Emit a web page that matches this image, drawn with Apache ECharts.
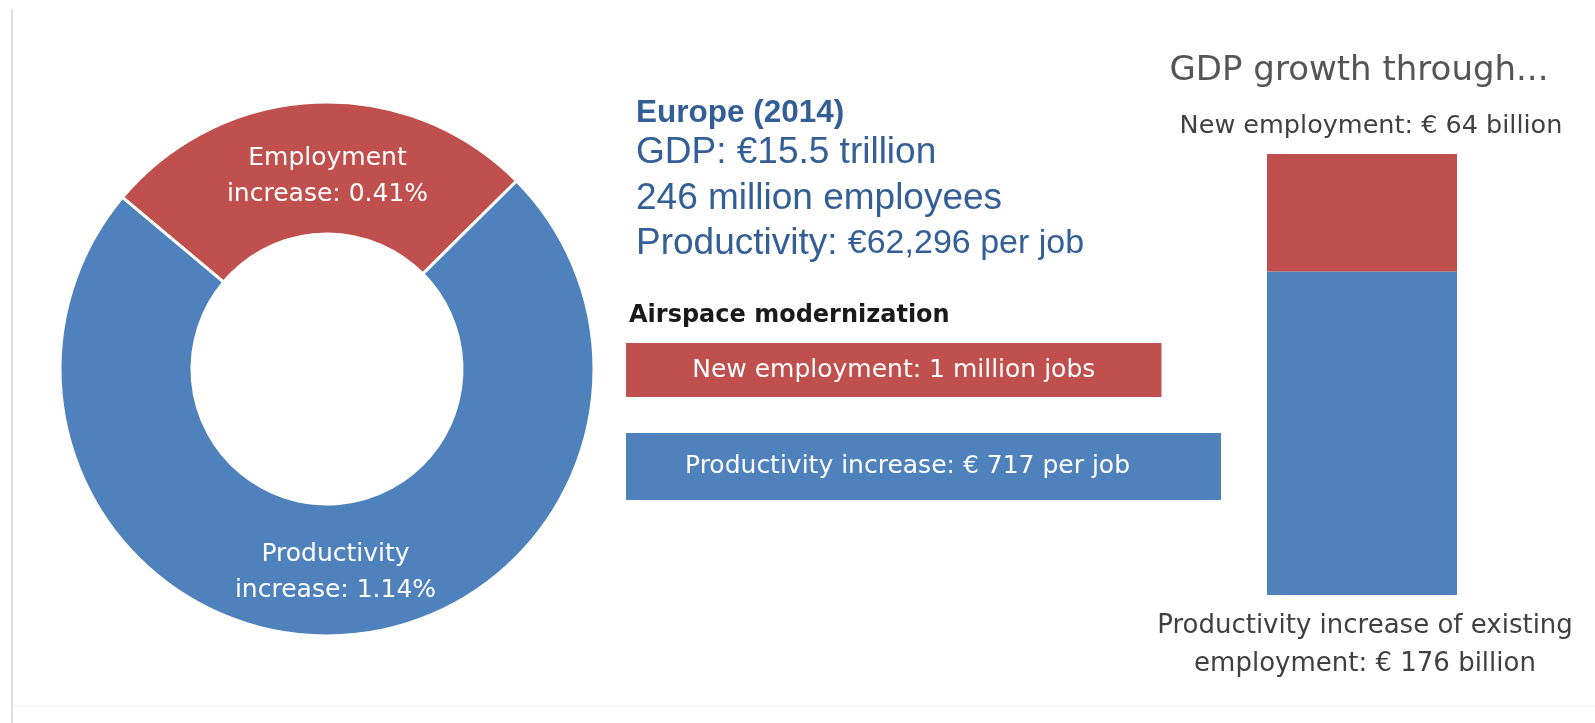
<!DOCTYPE html>
<html>
<head>
<meta charset="utf-8">
<script src="https://cdn.jsdelivr.net/npm/echarts@6/dist/echarts.min.js"></script>
<style>
html,body{margin:0;padding:0;background:#fff;}
#chart{width:1595px;height:723px;}
</style>
</head>
<body>
<div id="chart"></div>
<script>
// ---- data ----
const donutNames = ['Employment\nincrease', 'Productivity\nincrease'];
const donutValues = [0.41, 1.14];

const infoTitle = 'Europe (2014)';
const infoLines = ['GDP: €15.5 trillion', '246 million employees'];
const productivityLead = 'Productivity:';
const productivityValue = '€62,296 per job';

const airspaceTitle = 'Airspace modernization';
const airspaceCategories = ['New employment', 'Productivity increase'];
const airspaceLabels = ['New employment: 1 million jobs', 'Productivity increase: € 717 per job'];
const airspaceLengths = [90, 100];   // relative box length

const gdpTitle = 'GDP growth through...';
const gdpCategories = ['GDP growth'];
const gdpEmployment = [64];     // € billion
const gdpProductivity = [176];  // € billion
const gdpEmploymentLabel = 'New employment: € 64 billion';
const gdpProductivityLabel = 'Productivity increase of existing\nemployment: € 176 billion';

// ---- style ----
const RED = '#c0504d';
const BLUE = '#4f81bd';
const TEXTBLUE = '#335f96';
const GRAY = '#555555';
const DARK = '#404040';
const EXCEL_FONT = 'DejaVu Sans';
const ARIAL = '"Liberation Sans", Arial, sans-serif';

const chart = echarts.init(document.getElementById('chart'));

const pieLabelTweaks = [
  { padding: [0, 0, 0, 18] },
  { padding: [0, 0, 0, 0] }
];

const option = {
  animation: false,
  backgroundColor: '#ffffff',
  grid: [
    { left: 626, top: 343, width: 595, height: 54, show: false },
    { left: 626, top: 433, width: 595, height: 67, show: false },
    { left: 1267, top: 154, width: 190, height: 441, show: false }
  ],
  xAxis: [
    { gridIndex: 0, type: 'value', min: 0, max: 100, show: false },
    { gridIndex: 1, type: 'value', min: 0, max: 100, show: false },
    { gridIndex: 2, type: 'category', data: gdpCategories, show: false }
  ],
  yAxis: [
    { gridIndex: 0, type: 'category', data: [airspaceCategories[0]], show: false },
    { gridIndex: 1, type: 'category', data: [airspaceCategories[1]], show: false },
    { gridIndex: 2, type: 'value', min: 0, max: gdpEmployment[0] + gdpProductivity[0], show: false }
  ],
  graphic: [
    { type: 'line', silent: true, shape: { x1: 12, y1: 9, x2: 12, y2: 723 }, style: { stroke: '#dedede', lineWidth: 2 } },
    { type: 'line', silent: true, shape: { x1: 13, y1: 706, x2: 1595, y2: 706 }, style: { stroke: '#f3f3f3', lineWidth: 1 } },
    { type: 'text', x: 636, y: 97, silent: true, style: { text: infoTitle, font: 'bold 31.5px ' + ARIAL, fill: TEXTBLUE } },
    { type: 'text', x: 636, y: 134, silent: true, style: { text: infoLines[0], font: '37px ' + ARIAL, fill: TEXTBLUE } },
    { type: 'text', x: 636, y: 180, silent: true, style: { text: infoLines[1], font: '37px ' + ARIAL, fill: TEXTBLUE } },
    { type: 'text', x: 636, y: 225, silent: true, style: {
        text: '{a|' + productivityLead + ' }{b|' + productivityValue + '}',
        rich: {
          a: { fontFamily: ARIAL, fontSize: 37, fill: TEXTBLUE, color: TEXTBLUE },
          b: { fontFamily: ARIAL, fontSize: 34, fill: TEXTBLUE, color: TEXTBLUE }
        }
    } },
    { type: 'text', x: 629, y: 304, silent: true, style: { text: airspaceTitle, font: 'bold 24px "DejaVu Sans", sans-serif', fill: '#1a1a1a' } },
    { type: 'text', x: 1359, y: 71, silent: true, style: { text: gdpTitle, font: '34px "DejaVu Sans", sans-serif', fill: GRAY, align: 'center', verticalAlign: 'middle' } }
  ],
  series: [
    {
      type: 'pie',
      center: [327, 369],
      radius: [135, 267],
      startAngle: 140,
      clockwise: true,
      silent: true,
      avoidLabelOverlap: false,
      itemStyle: { borderColor: '#ffffff', borderWidth: 3 },
      label: {
        show: true,
        position: 'inside',
        formatter: (p) => (p.dataIndex === 0 ? '{gap| }\n' : '') + '{t|' + p.name + ': ' + p.value + '%}',
        rich: {
          t: { color: '#ffffff', fontFamily: EXCEL_FONT, fontSize: 25, lineHeight: 36 },
          gap: { fontSize: 2, lineHeight: 22 }
        }
      },
      labelLine: { show: false },
      emphasis: { disabled: true },
      data: donutNames.map((n, i) => ({
        name: n, value: donutValues[i],
        itemStyle: { color: i === 0 ? RED : BLUE },
        label: pieLabelTweaks[i]
      }))
    },
    {
      type: 'bar', xAxisIndex: 0, yAxisIndex: 0, barWidth: '100%', silent: true,
      data: [airspaceLengths[0]],
      itemStyle: { color: RED },
      label: { show: true, position: 'inside', formatter: () => airspaceLabels[0], color: '#fff', fontFamily: EXCEL_FONT, fontSize: 25 }
    },
    {
      type: 'bar', xAxisIndex: 1, yAxisIndex: 1, barWidth: '100%', silent: true,
      data: [airspaceLengths[1]],
      itemStyle: { color: BLUE },
      label: { show: true, position: 'inside', offset: [-16, 0], formatter: () => airspaceLabels[1], color: '#fff', fontFamily: EXCEL_FONT, fontSize: 25 }
    },
    {
      type: 'bar', xAxisIndex: 2, yAxisIndex: 2, stack: 'gdp', barWidth: '100%', silent: true,
      data: gdpProductivity,
      itemStyle: { color: BLUE },
      label: { show: true, position: 'bottom', distance: 12, offset: [3, 0], formatter: () => gdpProductivityLabel, color: DARK, fontFamily: EXCEL_FONT, fontSize: 26, lineHeight: 38 }
    },
    {
      type: 'bar', xAxisIndex: 2, yAxisIndex: 2, stack: 'gdp', barWidth: '100%', silent: true,
      data: gdpEmployment,
      itemStyle: { color: RED },
      label: { show: true, position: 'top', distance: 15, offset: [9, 0], formatter: () => gdpEmploymentLabel, color: DARK, fontFamily: EXCEL_FONT, fontSize: 25.5 }
    }
  ]
};
chart.setOption(option);
</script>
</body>
</html>
